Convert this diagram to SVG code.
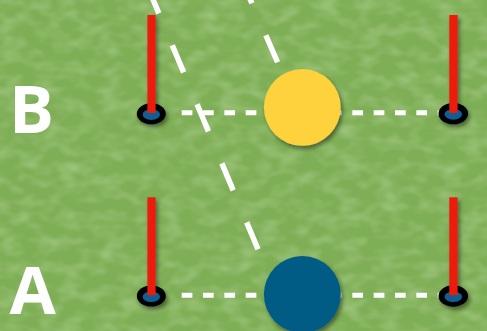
<svg xmlns="http://www.w3.org/2000/svg" width="487" height="331" viewBox="0 0 487 331">
  <defs>
    <filter id="grass" x="0" y="0" width="100%" height="100%" filterUnits="userSpaceOnUse">
      <feTurbulence type="fractalNoise" baseFrequency="0.05 0.08" numOctaves="2" seed="7" result="n"/>
      <feColorMatrix in="n" type="matrix" values="0 0 0 0 0.85  0 0 0 0 1  0 0 0 0 0.75  1.3 0 0 0 -0.5"/>
    </filter>
    <filter id="shadow" x="-40%" y="-40%" width="190%" height="190%">
      <feDropShadow dx="2" dy="3" stdDeviation="2.2" flood-color="#000" flood-opacity="0.45"/>
    </filter>
    <style>
      .pole { fill: #ec1c0e; }
      .base { fill: #000; }
      .hole { fill: #0f5f96; }
      .dashH { stroke: #fff; stroke-width: 5; fill: none; stroke-dasharray: 10.7 10.63; }
      .dashD { stroke: #fff; stroke-width: 5.5; fill: none; }
      .label { font-family: "Open Sans", "Liberation Sans", sans-serif; font-weight: 700; font-size: 67px; fill: #fff; }
    </style>
  </defs>

  <rect x="0" y="0" width="487" height="331" fill="#7eae55"/>
  <rect x="0" y="0" width="487" height="331" filter="url(#grass)" opacity="0.4"/>

  <g id="connectors">
    <line class="dashH" x1="181.7" y1="112.8" x2="447" y2="112.8"/>
    <line class="dashH" x1="181.7" y1="295.2" x2="447" y2="295.2"/>
    <line class="dashD" x1="147.5" y1="-13.7" x2="258" y2="249.3" stroke-dasharray="29.3 34.7"/>
    <line class="dashD" x1="240.2" y1="-23.7" x2="297" y2="107" stroke-dasharray="29.4 34.9"/>
  </g>

  <g id="cone-B-left" filter="url(#shadow)">
    <ellipse class="base" cx="151.3" cy="113.8" rx="14.5" ry="10.5"/>
    <ellipse class="hole" cx="151.3" cy="114.5" rx="8.7" ry="5.4"/>
    <rect class="pole" x="147.4" y="15" width="8.2" height="98"/>
  </g>
  <g id="cone-B-right" filter="url(#shadow)">
    <ellipse class="base" cx="453.3" cy="113.6" rx="14.8" ry="10.7"/>
    <ellipse class="hole" cx="453.3" cy="114.3" rx="8.8" ry="5.4"/>
    <rect class="pole" x="449.3" y="15" width="8.3" height="98"/>
  </g>
  <g id="cone-A-left" filter="url(#shadow)">
    <ellipse class="base" cx="151.3" cy="296" rx="14.5" ry="10.5"/>
    <ellipse class="hole" cx="151.3" cy="296.7" rx="8.7" ry="5.4"/>
    <rect class="pole" x="147.4" y="197.3" width="8.2" height="98"/>
  </g>
  <g id="cone-A-right" filter="url(#shadow)">
    <ellipse class="base" cx="453.3" cy="296" rx="14.8" ry="10.7"/>
    <ellipse class="hole" cx="453.3" cy="296.7" rx="8.8" ry="5.4"/>
    <rect class="pole" x="449.3" y="197.3" width="8.3" height="98"/>
  </g>

  <g id="ball-yellow" filter="url(#shadow)">
    <circle cx="302.3" cy="107.4" r="38.4" fill="#fdd23e"/>
  </g>
  <g id="ball-blue" filter="url(#shadow)">
    <circle cx="302.3" cy="294.5" r="38.4" fill="#005b84"/>
  </g>

  <g id="label-B">
    <text class="label" x="9" y="132.5">B</text>
  </g>
  <g id="label-A">
    <text class="label" x="9.5" y="314">A</text>
  </g>
</svg>
